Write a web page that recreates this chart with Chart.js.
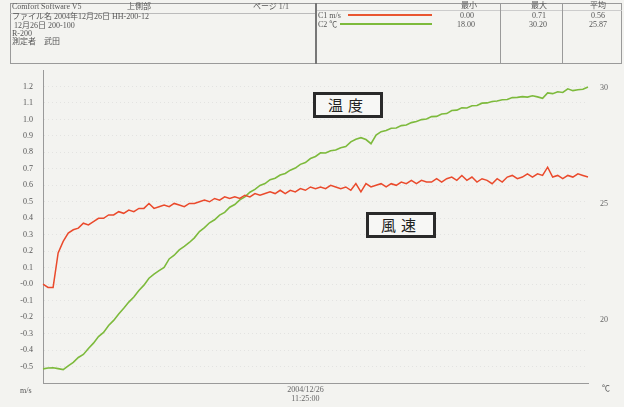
<!DOCTYPE html>
<html><head><meta charset="utf-8">
<script src="https://cdn.jsdelivr.net/npm/chart.js@4"></script>
<style>
html,body{margin:0;padding:0;background:#f3f3f0;}
#wrap{position:relative;width:624px;height:407px;overflow:hidden;font-family:"Liberation Serif","Noto Sans CJK JP",serif;color:#555;}
#c{position:absolute;left:0;top:0;}
.t{position:absolute;font-size:8px;line-height:9px;white-space:nowrap;color:#555;}
.ln{position:absolute;background:#9a9a9a;}
.box{position:absolute;border:3px solid #2a2a2a;background:#f7f7f5;font-family:"Noto Sans CJK JP",sans-serif;font-size:15px;line-height:19px;color:#222;text-align:center;letter-spacing:5px;box-sizing:border-box;}
</style></head>
<body>
<div id="wrap">
<canvas id="c" width="624" height="407"></canvas>

<!-- header table -->
<div class="ln" style="left:10px;top:3px;width:612px;height:1px;"></div>
<div class="ln" style="left:10px;top:63px;width:612px;height:1px;"></div>
<div class="ln" style="left:10px;top:3px;width:1px;height:61px;"></div>
<div class="ln" style="left:621px;top:3px;width:1px;height:61px;"></div>
<div class="ln" style="left:10px;top:13px;width:305px;height:1px;background:#bbb;"></div>
<div class="ln" style="left:315px;top:10px;width:307px;height:1px;background:#ccc;"></div>
<div class="ln" style="left:315px;top:3px;width:2px;height:61px;background:#777;"></div>
<div class="ln" style="left:500px;top:3px;width:1px;height:61px;"></div>
<div class="ln" style="left:562px;top:3px;width:1px;height:61px;"></div>

<div class="t" style="left:12px;top:2px;">Comfort Software V5</div>
<div class="t" style="left:127px;top:2px;">上側部</div>
<div class="t" style="left:253px;top:2px;">ページ 1/1</div>
<div class="t" style="left:12px;top:12px;">ファイル名 2004年12月26日 HH-200-12</div>
<div class="t" style="left:14px;top:21px;">12月26日 200-100</div>
<div class="t" style="left:12px;top:29px;">R-200</div>
<div class="t" style="left:12px;top:37px;">測定者　武田</div>

<div class="t" style="left:461px;top:1px;">最小</div>
<div class="t" style="left:531px;top:1px;">最大</div>
<div class="t" style="left:590px;top:1px;">平均</div>
<div class="t" style="left:318px;top:11px;">C1 m/s</div>
<div class="ln" style="left:348px;top:14px;width:84px;height:2px;background:#e9552f;"></div>
<div class="t" style="left:460px;top:11px;">0.00</div>
<div class="t" style="left:532px;top:11px;">0.71</div>
<div class="t" style="left:591px;top:11px;">0.56</div>
<div class="t" style="left:318px;top:20px;">C2 ℃</div>
<div class="ln" style="left:340px;top:23px;width:92px;height:2px;background:#7dba3c;"></div>
<div class="t" style="left:457px;top:20px;">18.00</div>
<div class="t" style="left:529px;top:20px;">30.20</div>
<div class="t" style="left:589px;top:20px;">25.87</div>

<!-- annotations -->
<div class="box" style="left:313px;top:92px;width:70px;height:26px;">温度</div>
<div class="box" style="left:366px;top:212px;width:70px;height:26px;">風速</div>

<!-- unit labels -->
<div class="t" style="left:20px;top:386px;">m/s</div>
<div class="t" style="left:602px;top:384px;">℃</div>
</div>

<script>
// tick label data
const dateLabel = '2004/12/26';
const markIndex = 52;
const rightTicks = [20, 25, 30];

// series values
const windSpeed = [
 0.00,-0.02,-0.02,0.19,0.26,0.31,0.33,0.34,0.37,0.36,
 0.38,0.40,0.40,0.42,0.42,0.44,0.43,0.45,0.44,0.46,
 0.46,0.49,0.46,0.47,0.48,0.47,0.49,0.48,0.47,0.49,
 0.49,0.50,0.51,0.50,0.52,0.51,0.53,0.52,0.53,0.52,
 0.54,0.53,0.55,0.54,0.55,0.56,0.55,0.57,0.55,0.57,
 0.56,0.58,0.57,0.59,0.58,0.59,0.58,0.60,0.59,0.58,
 0.59,0.57,0.61,0.56,0.61,0.59,0.60,0.61,0.59,0.61,
 0.60,0.62,0.61,0.63,0.61,0.63,0.62,0.62,0.64,0.62,
 0.64,0.65,0.63,0.66,0.63,0.65,0.62,0.64,0.63,0.61,
 0.64,0.62,0.65,0.66,0.64,0.65,0.67,0.65,0.67,0.66,
 0.71,0.65,0.66,0.64,0.66,0.65,0.67,0.66,0.65
];
const temperature = [
 17.89,17.93,17.94,17.90,17.86,18.02,18.17,18.38,18.51,18.77,
 19.00,19.28,19.46,19.76,19.98,20.26,20.50,20.77,20.99,21.27,
 21.50,21.80,21.98,22.13,22.27,22.63,22.79,23.02,23.17,23.34,
 23.54,23.81,23.98,24.19,24.32,24.52,24.64,24.86,24.98,25.18,
 25.31,25.51,25.63,25.80,25.88,26.05,26.11,26.25,26.32,26.46,
 26.55,26.71,26.79,26.96,27.05,27.21,27.20,27.30,27.33,27.43,
 27.48,27.68,27.79,27.86,27.78,27.60,27.97,28.12,28.17,28.27,
 28.28,28.38,28.41,28.51,28.56,28.64,28.67,28.77,28.78,28.88,
 28.90,29.03,29.05,29.15,29.14,29.24,29.25,29.35,29.36,29.42,
 29.44,29.50,29.51,29.59,29.60,29.63,29.61,29.67,29.62,29.56,
 29.79,29.76,29.84,29.81,29.97,29.89,29.93,29.95,30.05
];

// time categories, 10 s apart, with 11:25:00 at markIndex
const labels = [];
const base = 11*3600 + 25*60 - markIndex*10;
for (let i = 0; i < windSpeed.length; i++) {
  const s = base + i*10;
  const hh = String(Math.floor(s/3600)).padStart(2,'0');
  const mm = String(Math.floor(s%3600/60)).padStart(2,'0');
  const ss = String(s%60).padStart(2,'0');
  labels.push(hh + ':' + mm + ':' + ss);
}

const tickFont = {family: '"Liberation Serif", serif', size: 8};

new Chart(document.getElementById('c'), {
  type: 'line',
  data: {
    labels: labels,
    datasets: [
      {label: 'C1 m/s', data: windSpeed, yAxisID: 'y', borderColor: '#ea4a2c', borderWidth: 1.5, pointRadius: 0, tension: 0},
      {label: 'C2 ℃', data: temperature, yAxisID: 'y2', borderColor: '#7dba3c', borderWidth: 1.6, pointRadius: 0, tension: 0}
    ]
  },
  options: {
    responsive: false,
    animation: false,
    devicePixelRatio: 1,
    layout: {padding: {top: 70, left: 0, right: 0, bottom: 0}},
    plugins: {legend: {display: false}, tooltip: {enabled: false}},
    scales: {
      x: {
        type: 'category',
        offset: false,
        grid: {display: false, drawTicks: false},
        border: {display: true, color: '#9a9a9a', width: 1},
        ticks: {
          autoSkip: false, maxRotation: 0, padding: 2, font: tickFont, color: '#666',
          callback: (v, i) => i === markIndex ? [dateLabel, labels[i]] : null
        },
        afterFit: s => { s.height = 24; }
      },
      y: {
        position: 'left',
        min: -0.6, max: 1.3,
        grid: {display: true, drawTicks: false, color: 'rgba(120,120,120,0.13)'},
        border: {display: true, color: '#9a9a9a', width: 1, dash: [1, 3]},
        ticks: {
          stepSize: 0.1, padding: 10, font: tickFont, color: '#555',
          callback: v => (v > -0.55 && v < 1.25) ? (Math.abs(v) < 1e-9 ? '-0.0' : v.toFixed(1)) : null
        },
        afterFit: s => { s.width = 43; }
      },
      y2: {
        position: 'right',
        min: 17.28, max: 30.78,
        grid: {display: false, drawTicks: false},
        border: {display: false},
        ticks: {padding: 12, font: tickFont, color: '#666', callback: v => String(v)},
        afterBuildTicks: s => { s.ticks = rightTicks.map(v => ({value: v})); },
        afterFit: s => { s.width = 36; }
      }
    }
  }
});
</script>
</body></html>
